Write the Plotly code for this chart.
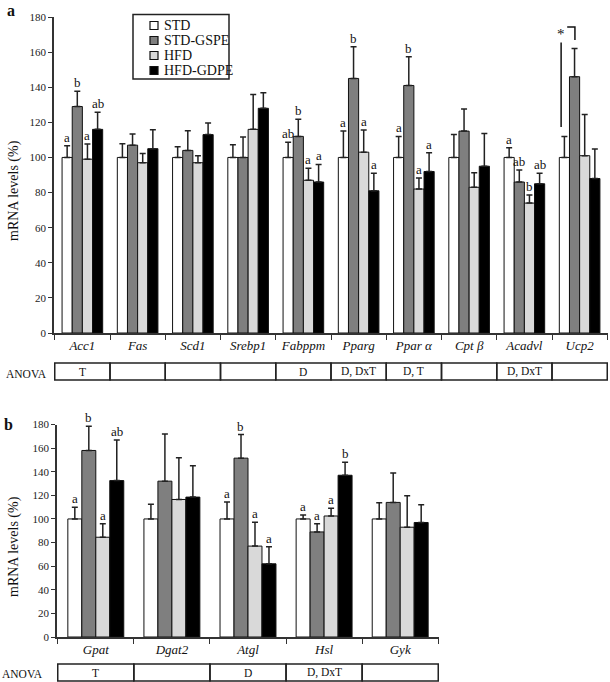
import plotly.graph_objects as go

# ---------------- data ----------------
groups = ["STD", "STD-GSPE", "HFD", "HFD-GDPE"]

genes_a = ["Acc1", "Fas", "Scd1", "Srebp1", "Fabppm", "Pparg", "Ppar α", "Cpt β", "Acadvl", "Ucp2"]
std_a = [100, 100, 100, 100, 100, 100, 100, 100, 100, 100]
std_err_a = [6.7, 7.8, 6.1, 7.2, 8.6, 15, 12, 13, 5.5, 12]
gspe_a = [129, 107, 104, 100, 112, 145, 141, 115, 86, 146]
gspe_err_a = [8.7, 6.3, 11.2, 11.6, 9.7, 18, 16.4, 12.6, 6.8, 16]
hfd_a = [99, 97, 97, 116, 87, 103, 82, 83, 74, 101]
hfd_err_a = [8.6, 5.3, 4, 19.8, 6.8, 12.6, 6.3, 8.3, 4.6, 23.5]
hfdg_a = [116, 105, 113, 128, 86, 81, 92, 95, 85, 88]
hfdg_err_a = [9.7, 10.8, 6.6, 8.8, 10, 10, 10.7, 18.7, 6, 16.8]
letters_a = [["a", "b", "a", "ab"], [], [], [], ["ab", "b", "a", "a"],
             ["a", "b", "a", "a"], ["a", "b", "a", "a"], [], ["a", "ab", "b", "ab"], []]
anova_a = ["T", "", "", "", "D", "D, DxT", "D, T", "", "D, DxT", ""]

genes_b = ["Gpat", "Dgat2", "Atgl", "Hsl", "Gyk"]
std_b = [100, 100, 100, 100, 100]
std_err_b = [10, 12.4, 14.4, 3.4, 13.8]
gspe_b = [158, 132, 151.5, 89, 114]
gspe_err_b = [20.6, 40, 20, 7, 25]
hfd_b = [84.5, 116.5, 77, 102.5, 93]
hfd_err_b = [11.5, 35.3, 20.2, 6.5, 26.7]
hfdg_b = [132.5, 118.5, 62, 137, 97]
hfdg_err_b = [34.3, 26.5, 14.4, 11, 15]
letters_b = [["a", "b", "a", "ab"], [], ["a", "b", "a", "a"], ["a", "a", "a", "b"], []]
anova_b = ["T", "", "D", "D, DxT", ""]

# Ucp2 significance marker (value range of the bracket)
ucp2_line = [117.3, 165.5]
ucp2_hook = [174.3, 166.9]
y_ticks = [0, 20, 40, 60, 80, 100, 120, 140, 160, 180]

# ---------------- styling ----------------
W, H = 610, 682
SERIF = "Liberation Serif, Times New Roman, serif"
fill_colors = ["#ffffff", "#7f7f7f", "#d9d9d9", "#000000"]
BARGAP = 0.265

xa_dom = [54 / W, 608 / W]
ya_dom = [1 - 333 / H, 1 - 17 / H]
xb_dom = [57 / W, 439 / W]
yb_dom = [1 - 637 / H, 1 - 424.5 / H]

fig = go.Figure()

def add_panel(genes, series, errs, xref, yref):
    for name, vals, err, col in zip(groups, series, errs, fill_colors):
        fig.add_trace(go.Bar(
            x=genes, y=vals, name=name,
            marker=dict(color=col, line=dict(color="#111111", width=1)),
            error_y=dict(type="data", symmetric=False, array=err,
                         arrayminus=[0] * len(err), color="#222222",
                         thickness=1.5, width=3),
            xaxis=xref, yaxis=yref, showlegend=False,
        ))

add_panel(genes_a, [std_a, gspe_a, hfd_a, hfdg_a],
          [std_err_a, gspe_err_a, hfd_err_a, hfdg_err_a], "x", "y")
add_panel(genes_b, [std_b, gspe_b, hfd_b, hfdg_b],
          [std_err_b, gspe_err_b, hfd_err_b, hfdg_err_b], "x2", "y2")

annotations = []
shapes = []

def txt(x, y, text, size=13, xref="paper", yref="paper", **kw):
    d = dict(x=x, y=y, xref=xref, yref=yref, text=text, showarrow=False,
             xanchor="center", yanchor="middle",
             font=dict(family=SERIF, size=size, color="#111111"))
    d.update(kw)
    annotations.append(d)

def letters(genes, series, errs, lets, dom, xref, yref):
    cat_px = (dom[1] - dom[0]) * W / len(genes)
    bw = cat_px * (1 - BARGAP) / 4
    for gi, g in enumerate(genes):
        for si, lab in enumerate(lets[gi]):
            top = series[si][gi] + errs[si][gi]
            txt(g, top, lab, 13, xref, yref, xshift=(si - 1.5) * bw,
                yanchor="bottom", yshift=-1)

letters(genes_a, [std_a, gspe_a, hfd_a, hfdg_a],
        [std_err_a, gspe_err_a, hfd_err_a, hfdg_err_a], letters_a, xa_dom, "x", "y")
letters(genes_b, [std_b, gspe_b, hfd_b, hfdg_b],
        [std_err_b, gspe_err_b, hfd_err_b, hfdg_err_b], letters_b, xb_dom, "x2", "y2")

# ANOVA rows
def anova(texts, xref, y0, y1, label_x, label_y):
    for i, t in enumerate(texts):
        shapes.append(dict(type="rect", xref=xref, yref="paper",
                           x0=i - 0.5, x1=i + 0.5, y0=y0, y1=y1,
                           line=dict(color="#222222", width=1.5)))
        if t:
            txt(i, (y0 + y1) / 2, t, 11.5, xref, "paper")
    txt(label_x / W, 1 - label_y / H, "ANOVA", 11.5)

anova(anova_a, "x", 1 - 380 / H, 1 - 363 / H, 26, 374)
anova(anova_b, "x2", 1 - 681 / H, 1 - 664 / H, 22, 674)

# Ucp2 bracket and star
ui = genes_a.index("Ucp2")
shapes.append(dict(type="line", xref="x", yref="y", x0=ui - 0.335, x1=ui - 0.335,
                   y0=ucp2_line[0], y1=ucp2_line[1], line=dict(color="#111111", width=1.5)))
shapes.append(dict(type="path", xref="x", yref="y",
                   path=f"M {ui - 0.225},{ucp2_hook[0]} L {ui - 0.085},{ucp2_hook[0]} L {ui - 0.085},{ucp2_hook[1]}",
                   line=dict(color="#111111", width=1.5)))
txt(ui - 0.34, ucp2_line[1] - 1, "*", 15, "x", "y", yanchor="bottom")

# manual legend
lx0, lx1, ly0, ly1 = 133, 229, 14.5, 79
shapes.append(dict(type="rect", xref="paper", yref="paper",
                   x0=lx0 / W, x1=lx1 / W, y0=1 - ly1 / H, y1=1 - ly0 / H,
                   line=dict(color="#222222", width=1.5), fillcolor="white"))
for k, (name, col) in enumerate(zip(groups, fill_colors)):
    cy = 25.5 + k * 15
    shapes.append(dict(type="rect", xref="paper", yref="paper",
                       x0=150 / W, x1=158 / W, y0=1 - (cy + 4) / H, y1=1 - (cy - 4) / H,
                       line=dict(color="#111111", width=1.2), fillcolor=col))
    txt(162 / W, 1 - cy / H, name, 14, xanchor="left")

# y titles and panel letters
for cy in (191, 547):
    txt(14 / W, 1 - cy / H, "mRNA levels (%)", 14, textangle=-90)
txt(11 / W, 1 - 11 / H, "<b>a</b>", 16)
txt(8 / W, 1 - 424 / H, "<b>b</b>", 16)

xaxis_common = dict(showline=True, linecolor="#333333", linewidth=1.5,
                    ticks="outside", tickson="boundaries", ticklen=5, tickcolor="#333333",
                    tickwidth=1.2, showgrid=False, zeroline=False,
                    tickfont=dict(family=SERIF, size=13, color="#111111", style="italic"))
yaxis_common = dict(showline=True, linecolor="#333333", linewidth=1.5, range=[0, 180],
                    tickvals=y_ticks, ticks="outside", ticklen=4, tickcolor="#333333",
                    tickwidth=1.2, showgrid=False, zeroline=False,
                    tickfont=dict(family=SERIF, size=11, color="#222222"))

fig.update_layout(
    width=W, height=H, margin=dict(l=0, r=0, t=0, b=0, autoexpand=False),
    paper_bgcolor="white", plot_bgcolor="white",
    barmode="group", bargap=BARGAP, bargroupgap=0,
    showlegend=False,
    xaxis=dict(domain=xa_dom, anchor="y", **xaxis_common),
    yaxis=dict(domain=ya_dom, anchor="x", **yaxis_common),
    xaxis2=dict(domain=xb_dom, anchor="y2", **xaxis_common),
    yaxis2=dict(domain=yb_dom, anchor="x2", **yaxis_common),
    annotations=annotations, shapes=shapes,
)

fig.write_html("out.html", config={"displayModeBar": False},
               post_script="document.body.style.margin='0';document.body.style.overflow='hidden';")
